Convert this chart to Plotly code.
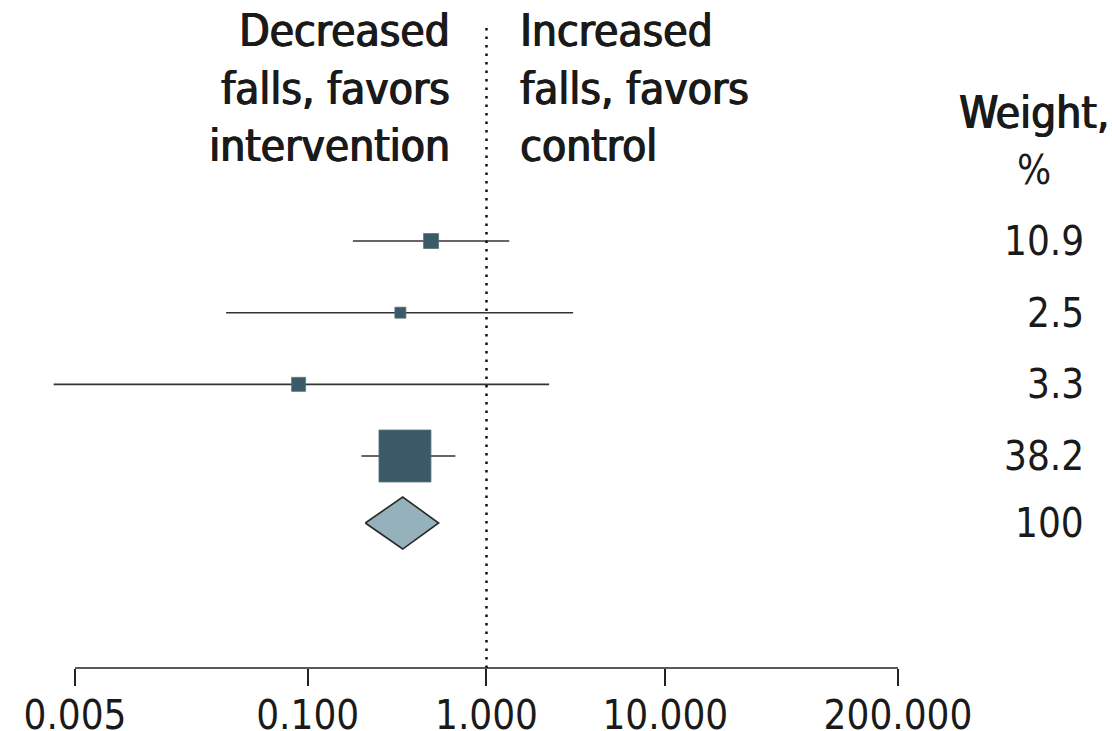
import plotly.graph_objects as go

# Study estimates (ratio scale) with 95% CI and weights
est = [0.49, 0.33, 0.089, 0.35]
ci_low = [0.179, 0.035, 0.0038, 0.20]
ci_high = [1.34, 3.05, 2.24, 0.67]
weights = ["10.9", "2.5", "3.3", "38.2"]

# Pooled estimate
pooled_est = 0.34
pooled_low = 0.21
pooled_high = 0.54
pooled_weight = "100"

tick_vals = [0.005, 0.1, 1, 10, 200]
tick_text = ["0.005", "0.100", "1.000", "10.000", "200.000"]

NUM_FONT = "DejaVu Sans Condensed, DejaVu Sans, sans-serif"
SQUARE = "#3a5a68"
DIAMOND = "#94b1bc"
INK = "#1a1a1a"

rows = list(range(len(est)))
pooled_row = 3.935
marker_sizes = [15, 11, 14, 52]

# plot area height in px, used to place header lines
PLOT_H = 668


def py(px):
    """Convert a pixel row (from top) to paper y."""
    return (PLOT_H - px) / PLOT_H


fig = go.Figure()

fig.add_trace(go.Scatter(
    x=est, y=rows, mode="markers",
    marker=dict(symbol="square", size=marker_sizes, color=SQUARE, opacity=1,
                line=dict(color="#587480", width=0.8)),
    error_x=dict(type="data", symmetric=False,
                 array=[h - e for h, e in zip(ci_high, est)],
                 arrayminus=[e - l for e, l in zip(est, ci_low)],
                 width=0, thickness=1.6, color="#333333"),
    showlegend=False, hoverinfo="skip",
))

# Pooled diamond
half_h = 0.363
fig.add_trace(go.Scatter(
    x=[pooled_low, pooled_est, pooled_high, pooled_est, pooled_low],
    y=[pooled_row, pooled_row - half_h, pooled_row, pooled_row + half_h, pooled_row],
    mode="lines", fill="toself", fillcolor=DIAMOND,
    line=dict(color="#2a2a2a", width=1.6),
    showlegend=False, hoverinfo="skip",
))

# Axis baseline from the first to the last tick
fig.add_shape(type="line", xref="x", yref="paper",
              x0=tick_vals[0], x1=tick_vals[-1], y0=0, y1=0,
              line=dict(color="#222222", width=1.6))

# Line of no effect
fig.add_shape(type="line", xref="x", yref="paper",
              x0=1, x1=1, y0=0, y1=py(22),
              line=dict(color="#111111", width=2.5, dash="2.5px,6px"))

# Direction headers, one line each (semi-bold look via a thin text shadow)
head_font = dict(family=NUM_FONT, size=44, color=INK,
                 shadow="0.9px 0 0 #1a1a1a, -0.5px 0 0 #1a1a1a")
left_lines = ["Decreased", "falls, favors", "intervention"]
right_lines = ["Increased", "falls, favors", "control"]
line_px = [31, 88, 145]
for txt, ypx in zip(left_lines, line_px):
    fig.add_annotation(x=0, y=py(ypx), xref="x", yref="paper",
                       xanchor="right", yanchor="middle", xshift=-34,
                       showarrow=False, text=txt, font=head_font)
for txt, ypx in zip(right_lines, line_px):
    fig.add_annotation(x=0, y=py(ypx), xref="x", yref="paper",
                       xanchor="left", yanchor="middle", xshift=32,
                       showarrow=False, text=txt, font=head_font)

# Weight column
col_right = (1086 - 20) / 940
col_center = (1034 - 20) / 940
fig.add_annotation(x=col_center, y=py(113), xref="paper", yref="paper",
                   xanchor="center", yanchor="middle", showarrow=False,
                   text="Weight,", font=head_font)
fig.add_annotation(x=col_center, y=py(170), xref="paper", yref="paper",
                   xanchor="center", yanchor="middle", showarrow=False,
                   text="%", font=dict(family=NUM_FONT, size=40, color=INK))
weight_font = dict(family=NUM_FONT, size=40, color=INK)
for r, w in zip(rows + [pooled_row], weights + [pooled_weight]):
    fig.add_annotation(x=col_right, y=r, xref="paper", yref="y",
                       xanchor="right", yanchor="middle", showarrow=False,
                       text=w, font=weight_font)

fig.update_xaxes(type="log", range=[-2.6086, 2.6478],
                 tickvals=tick_vals, ticktext=tick_text,
                 ticks="outside", ticklen=17, tickwidth=1.6, tickcolor="#222222",
                 ticklabelstandoff=-5,
                 tickfont=dict(family=NUM_FONT, size=40, color=INK),
                 showline=False, showgrid=False, zeroline=False, automargin=False)
fig.update_yaxes(range=[5.958, -3.363], visible=False, showgrid=False,
                 zeroline=False, automargin=False)

fig.update_layout(
    width=1112, height=731,
    margin=dict(l=20, r=152, t=0, b=63, autoexpand=False),
    paper_bgcolor="white", plot_bgcolor="white",
    font=dict(family=NUM_FONT),
)

fig.write_html("out.html")
